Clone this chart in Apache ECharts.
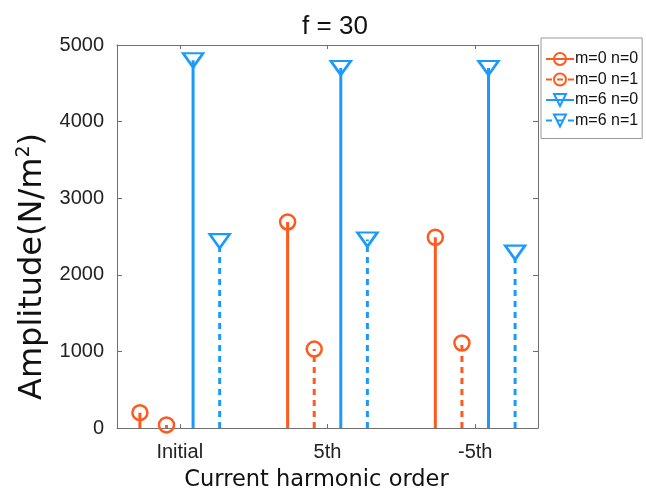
<!DOCTYPE html>
<html>
<head>
<meta charset="utf-8">
<script src="https://cdn.jsdelivr.net/npm/echarts@6/dist/echarts.min.js"></script>
<style>
  html, body { margin: 0; padding: 0; background: #fff; }
  #chart { width: 646px; height: 490px; }
</style>
</head>
<body>
<div id="chart"></div>
<script>
// Harmonic orders along the x axis
const categories = ['Initial', '5th', '-5th'];
// Amplitudes (N/m^2) for each mode
const m0n0 = [200, 2690, 2490];
const m0n1 = [40, 1030, 1110];
const m6n0 = [4800, 4700, 4700];
const m6n1 = [2440, 2460, 2290];
// Horizontal offset of each mode inside a category group
const offsets = [-0.27, -0.09, 0.09, 0.27];
const yTicks = [0, 1000, 2000, 3000, 4000, 5000];

const ORANGE = '#FF5A1E';
const BLUE = '#1A9BFC';
const FONT = 'Liberation Sans, Arial, Helvetica, sans-serif';
const NAME_FONT = 'DejaVu Sans, Liberation Sans, sans-serif';

// Build stem data: baseline point, top point (with marker), then a gap
function stemData(values, off) {
  const out = [];
  values.forEach((v, i) => {
    const x = i + 1 + off;
    out.push({ value: [x, 0], symbol: 'none' });
    out.push({ value: [x, v] });
    out.push({ value: [x, '-'], symbol: 'none' });
  });
  return out;
}

function stemSeries(name, values, off, color, dashed, symbol) {
  const isTri = symbol === 'triangle';
  return {
    name: name,
    type: 'line',
    data: stemData(values, off),
    connectNulls: false,
    color: color,
    symbol: symbol,
    symbolSize: isTri ? [20, 14] : 15,
    symbolRotate: isTri ? 180 : 0,
    showAllSymbol: true,
    lineStyle: { color: color, width: 3, type: dashed ? [6, 5] : 'solid' },
    itemStyle: { color: 'rgba(255,255,255,0)', borderColor: color, borderWidth: 2.5 },
    emphasis: { disabled: true },
    animation: false,
    z: 3
  };
}

const chart = echarts.init(document.getElementById('chart'), null, { renderer: 'canvas' });

const axisLineStyle = { color: '#707070', width: 1 };
const xTickValues = categories.map((c, i) => i + 1);

chart.setOption({
  animation: false,
  title: {
    text: 'f = 30',
    left: 330,
    textAlign: 'center',
    top: 9,
    textStyle: { fontFamily: FONT, fontSize: 26, fontWeight: 'normal', color: '#111' }
  },
  legend: {
    orient: 'vertical',
    left: 541,
    top: 38,
    padding: [13, 4, 10, 4],
    itemGap: 4.5,
    itemWidth: 28,
    itemHeight: 15,
    borderColor: '#9a9a9a',
    borderWidth: 1,
    backgroundColor: '#fff',
    textStyle: { fontFamily: FONT, fontSize: 16, color: '#111', padding: [0, 0, 0, -4] },
    data: ['m=0 n=0', 'm=0 n=1', 'm=6 n=0', 'm=6 n=1']
  },
  grid: { left: 117, right: 108, top: 45, bottom: 62, outerBoundsMode: 'none' },
  xAxis: [
    {
      type: 'value',
      min: 0.575,
      max: 3.425,
      position: 'bottom',
      name: 'Current harmonic order',
      nameLocation: 'middle',
      nameGap: 41,
      nameTextStyle: { fontFamily: NAME_FONT, fontSize: 22.5, color: '#111', padding: [0, 22, 0, 0] },
      axisLine: { show: true, onZero: false, lineStyle: axisLineStyle },
      axisTick: { show: true, inside: true, length: 4, customValues: xTickValues, lineStyle: axisLineStyle },
      axisLabel: {
        show: true,
        customValues: xTickValues,
        margin: 14,
        fontFamily: FONT,
        fontSize: 20,
        color: '#222',
        formatter: v => categories[Math.round(v) - 1]
      },
      splitLine: { show: false }
    },
    {
      type: 'value',
      min: 0.575,
      max: 3.425,
      position: 'top',
      axisLine: { show: true, onZero: false, lineStyle: axisLineStyle },
      axisTick: { show: true, inside: true, length: 4, customValues: xTickValues, lineStyle: axisLineStyle },
      axisLabel: { show: false },
      splitLine: { show: false }
    }
  ],
  yAxis: [
    {
      type: 'value',
      min: 0,
      max: 5000,
      interval: 1000,
      position: 'left',
      name: '{a|Amplitude(N/m}{s|2}{a|)}',
      nameLocation: 'middle',
      nameGap: 68,
      nameRotate: 90,
      nameTextStyle: {
        padding: [0, 60, 0, 0],
        rich: {
          a: { fontFamily: NAME_FONT, fontSize: 32, color: '#111', verticalAlign: 'bottom' },
          s: { fontFamily: NAME_FONT, fontSize: 19, color: '#111', verticalAlign: 'top', padding: [0, 0, 15, 0] }
        }
      },
      axisLine: { show: true, onZero: false, lineStyle: axisLineStyle },
      axisTick: { show: true, inside: true, length: 5, lineStyle: axisLineStyle },
      axisLabel: {
        margin: 13,
        fontFamily: FONT,
        fontSize: 20,
        color: '#222',
        customValues: yTicks,
        formatter: v => String(v)
      },
      splitLine: { show: false }
    },
    {
      type: 'value',
      min: 0,
      max: 5000,
      interval: 1000,
      position: 'right',
      axisLine: { show: true, onZero: false, lineStyle: axisLineStyle },
      axisTick: { show: true, inside: true, length: 5, lineStyle: axisLineStyle },
      axisLabel: { show: false },
      splitLine: { show: false }
    }
  ],
  series: [
    stemSeries('m=0 n=0', m0n0, offsets[0], ORANGE, false, 'circle'),
    stemSeries('m=0 n=1', m0n1, offsets[1], ORANGE, true, 'circle'),
    stemSeries('m=6 n=0', m6n0, offsets[2], BLUE, false, 'triangle'),
    stemSeries('m=6 n=1', m6n1, offsets[3], BLUE, true, 'triangle')
  ]
});
</script>
</body>
</html>
